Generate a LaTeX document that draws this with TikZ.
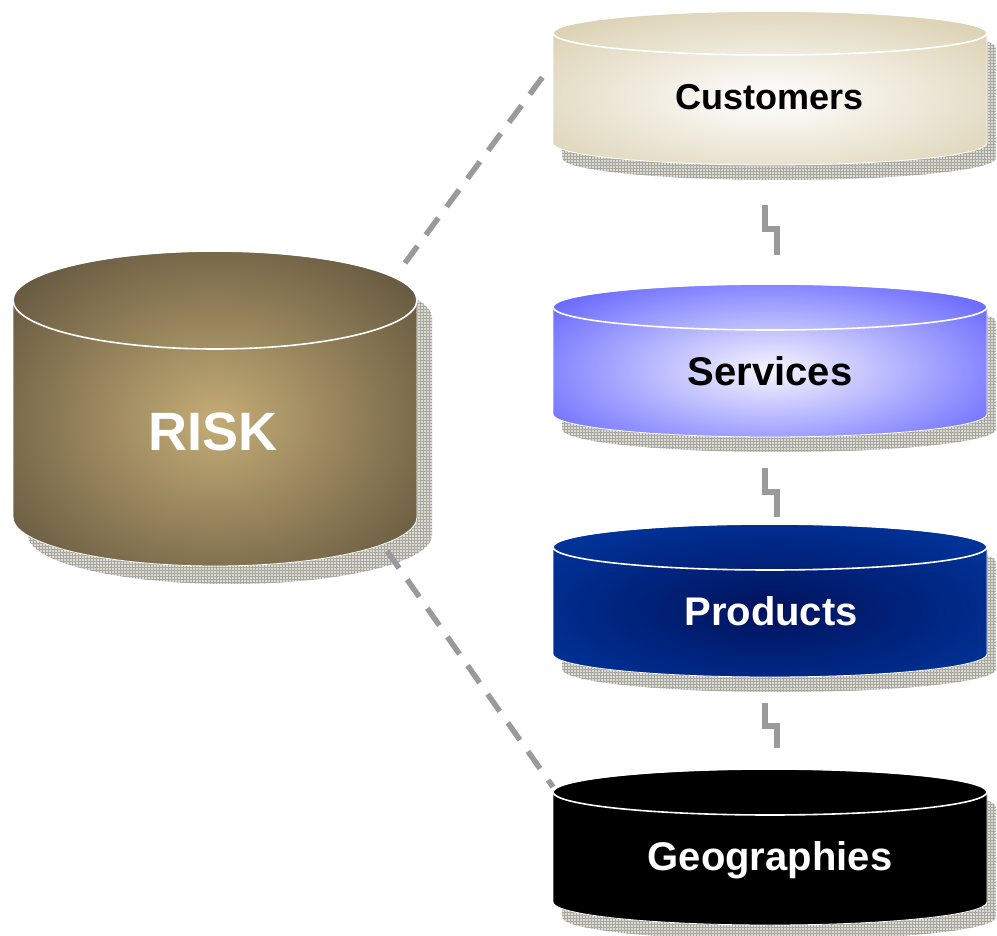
\documentclass[tikz,border=0pt]{standalone}
\usepackage{fontspec}
\setmainfont{Liberation Sans}
\usetikzlibrary{patterns}

\definecolor{linkgray}{HTML}{9A9A9A}
\definecolor{shadowbg}{HTML}{DADAD2}
\definecolor{shadowline}{HTML}{A8A8A0}
\definecolor{custEdge}{HTML}{DCD2B4}
\definecolor{custMid}{HTML}{FFFFFF}
\definecolor{servEdge}{HTML}{6666FF}
\definecolor{servMid}{HTML}{F6F6FF}
\definecolor{prodEdge}{HTML}{003399}
\definecolor{prodMid}{HTML}{00125C}
\definecolor{geoEdge}{HTML}{000000}
\definecolor{riskEdge}{HTML}{5C503A}
\definecolor{riskMid}{HTML}{C4AC76}

% outline of an upright drum: #1 cx, #2 top centre y, #3 rx, #4 ry, #5 height
\newcommand\drumoutline[5]{(#1-#3,#2) -- (#1-#3,#2+#5)
  arc[start angle=180,end angle=0,x radius=#3,y radius=#4]
  -- (#1+#3,#2) arc[start angle=0,end angle=-180,x radius=#3,y radius=#4] -- cycle}

% shaded drum with its grid shadow
% #1 cx, #2 top y, #3 rx, #4 ry, #5 h, #6 edge colour, #7 centre colour,
% #8 glow centre y, #9 glow radii
\newcommand\drum[9]{%
  \begin{scope}[shift={(\drumdx,\drumdy)}]
    \path[drumshadow] \drumoutline{#1}{#2}{#3}{#4}{#5};
  \end{scope}
  \fill[#6] \drumoutline{#1}{#2}{#3}{#4}{#5};
  \begin{scope}
    \clip \drumoutline{#1}{#2}{#3}{#4}{#5};
    \shade[inner color=#7, outer color=#6] (#1,#8) ellipse [#9];
  \end{scope}
  \draw[drumedge] \drumoutline{#1}{#2}{#3}{#4}{#5};
  \draw[drumrim] (#1,#2) ellipse [x radius=#3, y radius=#4];
}
\newcommand\drumdx{9}
\newcommand\drumdy{15}

\tikzset{
  drumshadow/.style={preaction={fill=shadowbg}, pattern=grid, pattern color=shadowline},
  drumedge/.style={draw=white, line width=0.8pt},
  drumrim/.style={draw=white, line width=1.6pt},
  drumlabel/.style={font=\bfseries\fontsize{40}{44}\selectfont, anchor=base, inner sep=0pt},
  linkline/.style={draw=linkgray, line width=5.5pt, dash pattern=on 21pt off 14pt},
  breakline/.style={draw=linkgray, line width=6pt, line join=miter},
}

\begin{document}
\begin{tikzpicture}[x=1pt, y=-1pt]
\useasboundingbox (0,0) rectangle (997,936);
\fill[white] (0,0) rectangle (997,936);

% risk drum
\renewcommand\drumdx{15}\renewcommand\drumdy{18}
\drum{215}{300}{202}{49}{217}{riskEdge}{riskMid}{420}{x radius=290, y radius=230}
\node[drumlabel, text=white, font=\bfseries\fontsize{54}{60}\selectfont] (risk) at (213,450) {RISK};

% category drums
\renewcommand\drumdx{9}\renewcommand\drumdy{15}
\drum{770}{33}{217}{22}{110}{custEdge}{custMid}{98}{x radius=290, y radius=100}
\node[drumlabel, text=black, font=\bfseries\fontsize{36}{40}\selectfont] (cust) at (770,110) {Customers};

\drum{770}{307}{217}{23}{107}{servEdge}{servMid}{370}{x radius=280, y radius=110}
\node[drumlabel, text=black] (serv) at (770,385) {Services};

\drum{770}{547}{217}{23}{107}{prodEdge}{prodMid}{610}{x radius=270, y radius=100}
\node[drumlabel, text=white] (prod) at (771,625) {Products};

\drum{770}{792}{217}{23}{110}{geoEdge}{geoEdge}{856}{x radius=300, y radius=110}
\node[drumlabel, text=white] (geo) at (770,870) {Geographies};

% link ends
\coordinate (risk-ne) at (405,263);
\coordinate (cust-w)  at (550,67);
\coordinate (risk-se) at (387,551);
\coordinate (geo-w)   at (553,787);
\coordinate (cust-s) at (764.5,205);
\coordinate (serv-n) at (776.5,255);
\coordinate (serv-s) at (764.5,468);
\coordinate (prod-n) at (776.5,517);
\coordinate (prod-s) at (764.5,703);
\coordinate (geo-n)  at (776.5,748);

% dashed links from risk
\draw[linkline] (risk-ne) -- (cust-w);
\draw[linkline] (risk-se) -- (geo-w);

% broken links between the stacked drums
\draw[breakline] (cust-s) -- ++(0,24) -| (serv-n);
\draw[breakline] (serv-s) -- ++(0,24) -| (prod-n);
\draw[breakline] (prod-s) -- ++(0,23) -| (geo-n);
\end{tikzpicture}
\end{document}
